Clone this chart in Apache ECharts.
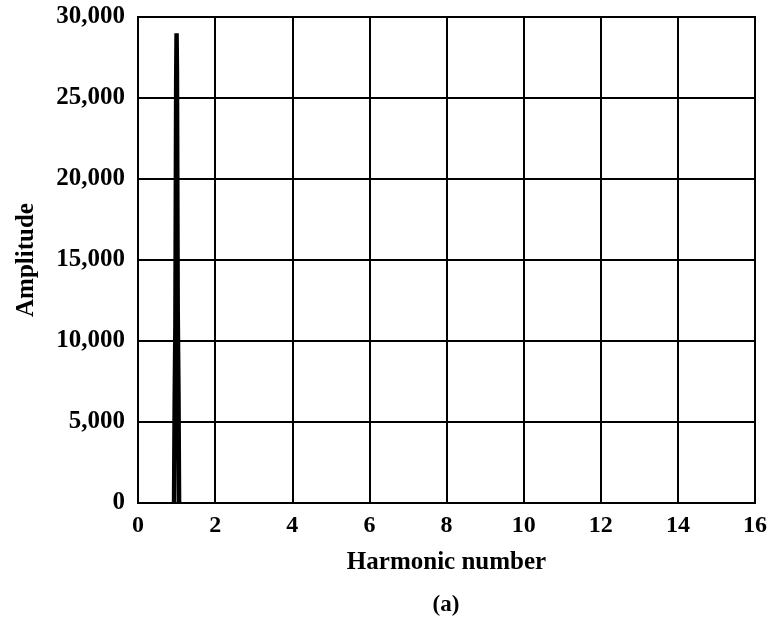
<!DOCTYPE html>
<html>
<head>
<meta charset="utf-8">
<script src="https://cdn.jsdelivr.net/npm/echarts@6/dist/echarts.min.js"></script>
<style>
  html, body { margin: 0; padding: 0; background: #fff; }
  #chart { width: 773px; height: 620px; }
</style>
</head>
<body>
<div id="chart"></div>
<script>
// Harmonic spectrum: amplitude concentrated around the fundamental
const harmonicNumber = [0.935, 0.95, 0.97, 0.99, 1.00, 1.01, 1.03, 1.05, 1.065];
const amplitude      = [0, 5950, 11040, 26070, 29000, 26750, 11840, 6750, 0];

const xTicks = { min: 0, max: 16, step: 2 };
const yTicks = { min: 0, max: 30000, step: 5000 };

const serif = '"Liberation Serif", "DejaVu Serif", serif';

const chart = echarts.init(document.getElementById('chart'), null, { renderer: 'canvas' });

const points = harmonicNumber.map((h, i) => [h, amplitude[i]]);

chart.setOption({
  animation: false,
  backgroundColor: '#fff',
  grid: { left: 138, right: 18, top: 17, bottom: 117, containLabel: false },
  xAxis: {
    type: 'value',
    min: xTicks.min, max: xTicks.max, interval: xTicks.step,
    name: 'Harmonic number',
    nameLocation: 'middle',
    nameGap: 47,
    nameTextStyle: { fontFamily: serif, fontSize: 25, fontWeight: 'bold', color: '#000' },
    axisLine: { show: true, onZero: false, lineStyle: { color: '#000', width: 2 } },
    axisTick: { show: false },
    axisLabel: { margin: 11, fontFamily: serif, fontSize: 24, fontWeight: 'bold', color: '#000' },
    splitLine: { show: true, lineStyle: { color: '#000', width: 2 } }
  },
  yAxis: {
    type: 'value',
    min: yTicks.min, max: yTicks.max, interval: yTicks.step,
    name: 'Amplitude',
    nameLocation: 'middle',
    nameRotate: 90,
    nameGap: 99,
    nameTextStyle: { fontFamily: serif, fontSize: 25, fontWeight: 'bold', color: '#000' },
    axisLine: { show: true, lineStyle: { color: '#000', width: 2 } },
    axisTick: { show: false },
    axisLabel: {
      margin: 13, fontFamily: serif, fontSize: 25, fontWeight: 'bold', color: '#000',
      formatter: v => v.toLocaleString('en-US')
    },
    splitLine: { show: true, lineStyle: { color: '#000', width: 2 } }
  },
  graphic: [
    {
      type: 'rect',
      shape: { x: 138, y: 17, width: 617, height: 486 },
      style: { fill: 'none', stroke: '#000', lineWidth: 2 },
      silent: true, z: 10
    },
    {
      type: 'text',
      x: 446, y: 605,
      style: {
        text: '(a)', fill: '#000',
        font: 'bold 23px ' + serif,
        textAlign: 'center', textVerticalAlign: 'middle'
      }
    }
  ],
  series: [{
    type: 'line',
    data: points,
    symbol: 'none',
    lineStyle: { color: '#000', width: 4.5, join: 'miter' },
    z: 5
  }]
});
</script>
</body>
</html>
